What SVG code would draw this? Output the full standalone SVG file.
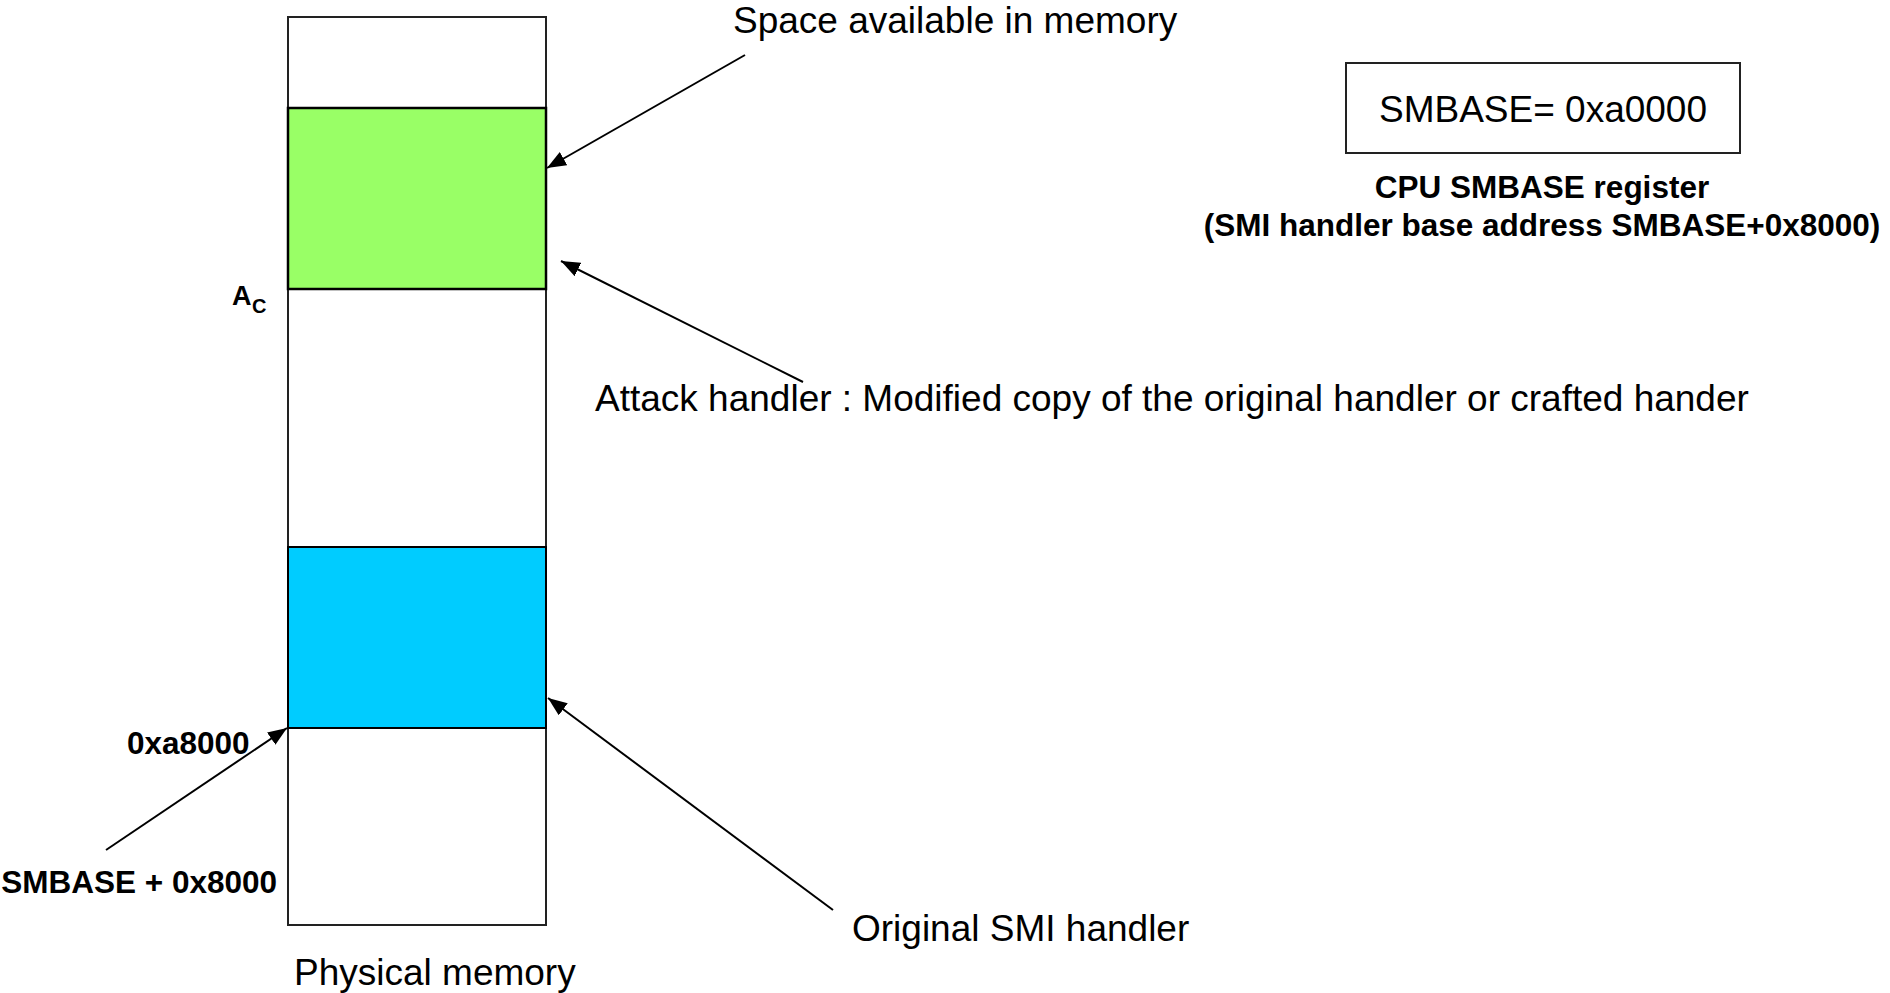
<svg xmlns="http://www.w3.org/2000/svg" width="1890" height="993" viewBox="0 0 1890 993">
<style>
.reg{font-family:"Liberation Sans",Arial,sans-serif;font-size:37px;fill:#000}
.bold{font-family:"Liberation Sans",Arial,sans-serif;font-size:31.5px;font-weight:bold;fill:#000}
.conn{stroke:#000;stroke-width:2;fill:none;marker-end:url(#arr)}
</style>
<defs>
<marker id="arr" markerUnits="userSpaceOnUse" markerWidth="20" markerHeight="16" refX="19" refY="7.5" orient="auto">
<path d="M0,0 L19,7.5 L0,15 z" fill="#000"/>
</marker>
</defs>
<rect width="1890" height="993" fill="#fff"/>
<g id="memory">
<rect x="288" y="17" width="258" height="908" fill="#fff" stroke="#222" stroke-width="2"/>
<text class="reg" x="294" y="985">Physical memory</text>
</g>
<g id="attack-region">
<rect x="288" y="108" width="258" height="181" fill="#99FF66" stroke="#000" stroke-width="2.5"/>
</g>
<g id="smi-region">
<rect x="288" y="547" width="258" height="181" fill="#00CCFF" stroke="#000" stroke-width="2"/>
</g>
<g id="label-ac">
<text class="bold" x="232" y="305" style="font-size:27px">A</text>
<text class="bold" x="252" y="313" style="font-size:20px">C</text>
</g>
<g id="label-0xa8000">
<text class="bold" x="127" y="754">0xa8000</text>
</g>
<g id="label-smbase">
<text class="bold" x="277" y="893" text-anchor="end">SMBASE + 0x8000</text>
</g>
<g id="space-label">
<text class="reg" x="733" y="33">Space available in memory</text>
</g>
<g id="attack-label">
<text class="reg" x="595" y="411">Attack handler : Modified copy of the original handler or crafted hander</text>
</g>
<g id="original-label">
<text class="reg" x="852" y="941">Original SMI handler</text>
</g>
<g id="register">
<rect x="1346" y="63" width="394" height="90" fill="#fff" stroke="#222" stroke-width="2"/>
<text class="reg" x="1543" y="122" text-anchor="middle">SMBASE= 0xa0000</text>
<text class="bold" x="1542" y="198" text-anchor="middle">CPU SMBASE register</text>
<text class="bold" x="1542" y="236" text-anchor="middle">(SMI handler base address SMBASE+0x8000)</text>
</g>
<g id="connectors">
<line class="conn" x1="745" y1="55" x2="547" y2="168"/>
<line class="conn" x1="803" y1="382" x2="561" y2="261"/>
<line class="conn" x1="833" y1="910" x2="548" y2="698"/>
<line class="conn" x1="106" y1="850" x2="287" y2="728"/>
</g>
</svg>
